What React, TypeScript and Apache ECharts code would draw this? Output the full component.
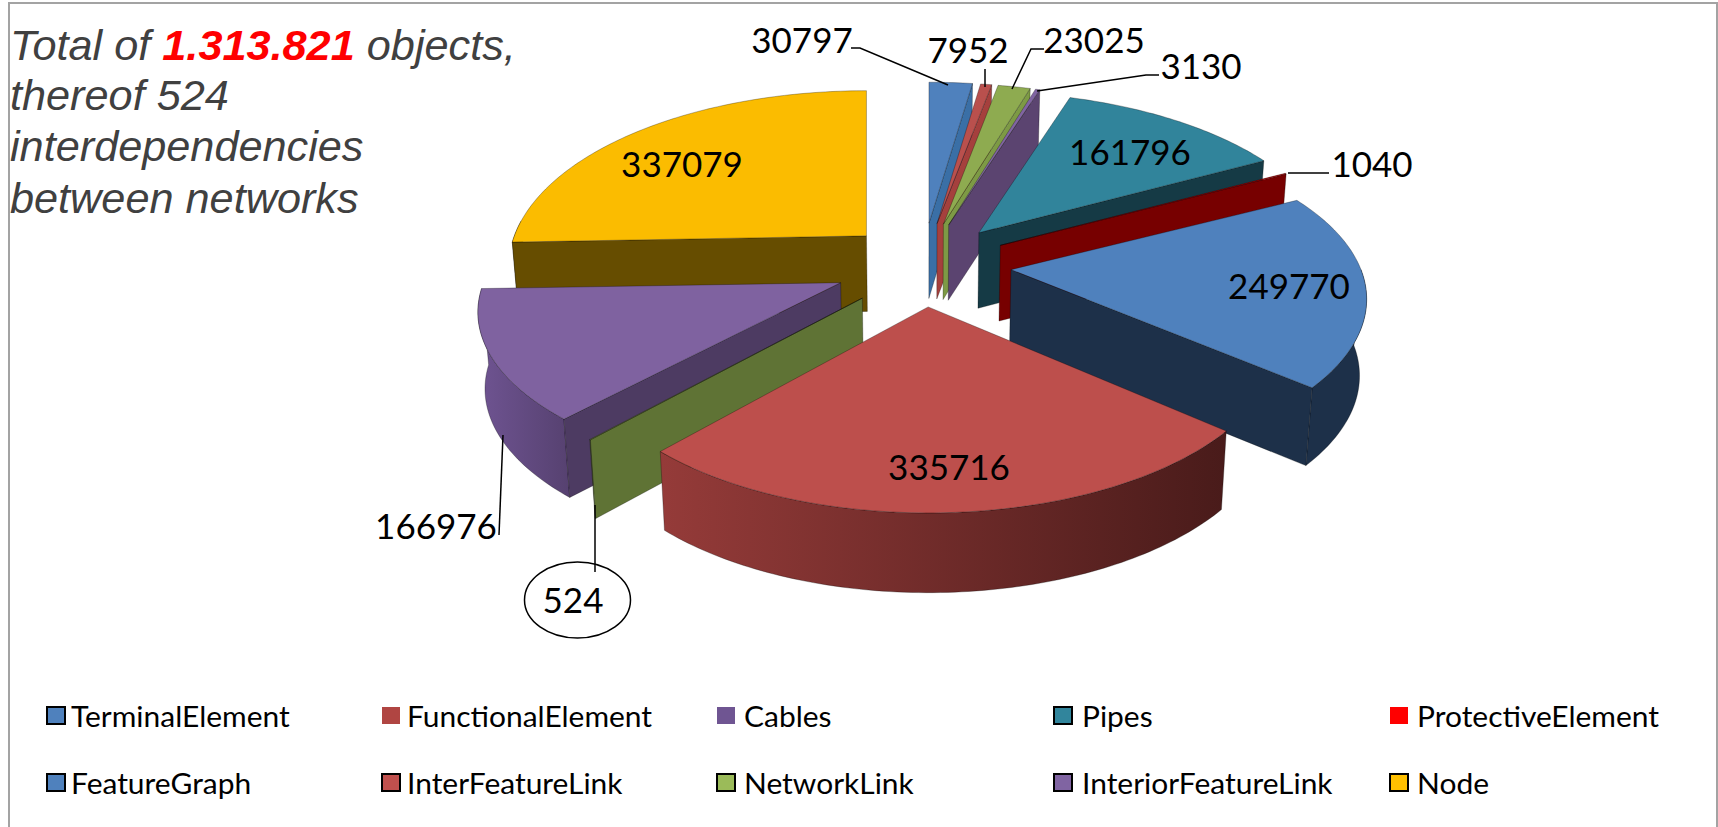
import React, { useEffect, useRef } from "react";
import * as echarts from "echarts";

// ---- data, clockwise from 12 o'clock ----
const categories = ["FeatureGraph", "InterFeatureLink", "NetworkLink", "InteriorFeatureLink", "Pipes", "ProtectiveElement", "TerminalElement", "FunctionalElement", "Interdependencies", "Cables", "Node"];
const values = [30797, 7952, 23025, 3130, 161796, 1040, 249770, 335716, 524, 166976, 337079];
const legendRowOne = ["TerminalElement", "FunctionalElement", "Cables", "Pipes", "ProtectiveElement"];
const legendRowTwo = ["FeatureGraph", "InterFeatureLink", "NetworkLink", "InteriorFeatureLink", "Node"];

// ---- styles ----
const topColors = ["#4f81bd", "#b9504d", "#8eab50", "#8064a2", "#31849b", "#c00000", "#4f81bd", "#bd4f4c", "#7c9642", "#7f62a0", "#fbbc00"];
const cutColors = ["#3a6fa6", "#a5403d", "#7d9a45", "#5b4470", "#153a45", "#770000", "#1d3049", "#4b1c1b", "#5f7335", "#4d3b62", "#664d00"];
const wallColors: [string, string][] = [
  ["#3a6fa6", "#3a6fa6"], ["#a5403d", "#a5403d"], ["#7d9a45", "#7d9a45"], ["#5b4470", "#5b4470"], ["#153a45", "#153a45"], ["#770000", "#770000"],
  ["#1d3049", "#1d3049"], ["#953b39", "#491b1a"], ["#5f7335", "#5f7335"], ["#6f5492", "#564170"], ["#664d00", "#664d00"],
];
const drawOrder = [0, 1, 2, 3, 4, 5, 6, 10, 9, 8, 7];
const legendColors: Record<string, string> = {
  TerminalElement: "#4f81bd", FunctionalElement: "#b04542", Cables: "#6f5592", Pipes: "#31859c", ProtectiveElement: "#ff0000",
  FeatureGraph: "#4f81bd", InterFeatureLink: "#c0504d", NetworkLink: "#9bbb59", InteriorFeatureLink: "#8064a2", Node: "#ffc000",
};
const legendUnframed = ["FunctionalElement", "Cables", "ProtectiveElement"];
const legendSwatchX = [47, 382, 717, 1054, 1390];
const legendTextX = [71, 407, 744, 1082, 1417];
const legendRowY = [716, 783];

// per-slice fine layout: [apex dx, apex dy, radius x scale, radius y scale]
const sliceTweak: [number, number, number, number][] = [
  [0, 0, 1, 1], [0, 0, 1, 1], [0, 0, 1, 1], [0, 0, 1, 1], [0, 0, 1, 1], [0, 0, 1, 1],
  [1, 0, 1, 0.97], [0, 0, 0.99, 1.02], [-1, 2, 1.005, 1], [-2, 0, 1.02, 0.965], [7.3, 0, 1.006, 1.03],
];

// label layout: centre of each value label and its leader line
const labelAt: [number, number][] = [[802, 39], [968, 49], [1094, 39], [1201, 65], [1130, 151], [1372, 163], [1289, 285], [949, 466], [573, 599], [436, 525], [682, 163]];
const leaders: ([number, number][] | null)[] = [
  [[851, 48], [860, 48], [948, 85]],
  [[985, 69], [985, 87]],
  [[1044, 49], [1031, 49], [1012, 89]],
  [[1159, 75], [1146, 75], [1037, 91]],
  null,
  [[1329, 173], [1288, 173]],
  null,
  null,
  [[595, 505], [595, 572]],
  [[503, 435], [499, 535]],
  null,
];

// ---- projection ----
const CX = 922.5, CY = 265, EX = 88, EY = 42, RX = 350, RY = 166, PERSP = 0.178, DEPTH = 76;
const total = values.reduce((a, b) => a + b, 0);
const rad = (d: number) => (d * Math.PI) / 180;
const startAngles: number[] = [];
{
  let c = 0;
  for (const v of values) {
    startAngles.push(c);
    c += (v / total) * 360;
  }
}
type P = [number, number];
const rimOffset = (t: number): P => {
  const x = Math.sin(rad(t)), y = -Math.cos(rad(t));
  const w = 1 / (1 - PERSP * y);
  return [RX * x * w, RY * y * w];
};
const drop = (p: P): P => [CX + (p[0] - CX) * 0.984, p[1] + DEPTH * (1 + 0.0002 * (p[1] - CY))];

function renderSlice(_: any, api: any) {
  const i = api.value(0) as number;
  const a = startAngles[i];
  const b = a + (api.value(1) / total) * 360;
  const m = (a + b) / 2;
  const [dx, dy, sx, sy] = sliceTweak[i];
  const apex: P = [CX + dx + EX * Math.sin(rad(m)), CY + dy - EY * Math.cos(rad(m))];
  const at = (t: number): P => {
    const o = rimOffset(t);
    return [apex[0] + o[0] * sx, apex[1] + o[1] * sy];
  };
  const arc = (from: number, to: number): P[] => {
    const n = Math.max(1, Math.ceil(to - from));
    const out: P[] = [];
    for (let k = 0; k <= n; k++) out.push(at(from + ((to - from) * k) / n));
    return out;
  };
  const edge = { stroke: "rgba(0,0,0,0.4)", lineWidth: 0.7 };
  const children: any[] = [];
  const cut = (t: number) => {
    const r = at(t);
    children.push({ type: "polygon", shape: { points: [apex, r, drop(r), drop(apex)] }, style: { fill: cutColors[i], ...edge } });
  };
  const w0 = Math.max(a, 90), w1 = Math.min(b, 275);
  if (w1 > w0) {
    const top = arc(w0, w1);
    children.push({
      type: "polygon",
      shape: { points: [...top, ...top.map(drop).reverse()] },
      style: {
        fill: new echarts.graphic.LinearGradient(0, 0, 1, 0, [
          { offset: 0, color: wallColors[i][0] },
          { offset: 1, color: wallColors[i][1] },
        ]),
        ...edge,
      },
    });
  }
  if (Math.sin(rad(a)) < 0) cut(a);
  if (Math.sin(rad(b)) > 0) cut(b);
  children.push({ type: "polygon", shape: { points: [apex, ...arc(a, b)] }, style: { fill: topColors[i], ...edge } });
  return { type: "group", children };
}

function renderLabel(_: any, api: any) {
  const i = api.value(0) as number;
  const [x, y] = labelAt[i];
  const children: any[] = [];
  const line = leaders[i];
  if (line) children.push({ type: "polyline", shape: { points: line }, style: { stroke: "#000", lineWidth: 1.5, fill: "none" } });
  if (categories[i] === "Interdependencies") {
    children.push({ type: "ellipse", shape: { cx: 577.5, cy: 600, rx: 53, ry: 38 }, style: { fill: "none", stroke: "#000", lineWidth: 1.5 } });
  }
  children.push({
    type: "text",
    x,
    y,
    style: { text: String(api.value(1)), fill: "#000", font: "35px Lato", align: "center", verticalAlign: "middle" },
  });
  return { type: "group", children };
}

const titleFont = "italic 42px 'Liberation Sans'";
const titleGrey = "#404040";

export default function App() {
  const ref = useRef<HTMLDivElement>(null);
  useEffect(() => {
    const chart = echarts.init(ref.current!, null, { renderer: "svg" });
    const graphics: any[] = [
      { type: "rect", shape: { x: 9, y: 3, width: 1708, height: 840 }, style: { fill: "none", stroke: "#a3a3a3", lineWidth: 2 }, z: 1 },
      {
        type: "text", x: 10, y: 66, scaleX: 1.03, z: 5,
        style: {
          text: "{a|Total of }{r|1.313.821}{a| objects,}",
          verticalAlign: "bottom",
          rich: {
            a: { font: titleFont, fill: titleGrey },
            r: { font: "italic bold 42px 'Liberation Sans'", fill: "#ff0000" },
          },
        },
      },
      ...["thereof 524", "interdependencies", "between networks"].map((t, k) => ({
        type: "text", x: 10, y: 116 + k * 51.5, scaleX: 1.03, z: 5,
        style: { text: t, font: titleFont, fill: titleGrey, verticalAlign: "bottom" },
      })),
    ];
    [legendRowOne, legendRowTwo].forEach((row, r) =>
      row.forEach((name, c) => {
        const framed = !legendUnframed.includes(name);
        graphics.push({
          type: "rect",
          shape: { x: legendSwatchX[c], y: legendRowY[r] - 9, width: 18, height: 17 },
          style: { fill: legendColors[name], stroke: framed ? "#000" : legendColors[name], lineWidth: framed ? 2 : 0 },
          z: 5,
        });
        graphics.push({
          type: "text",
          x: legendTextX[c],
          y: legendRowY[r],
          scaleX: 1.07,
          z: 5,
          style: { text: name, font: "28px Lato", fill: "#000", verticalAlign: "middle" },
        });
      })
    );
    chart.setOption({
      animation: false,
      backgroundColor: "#fff",
      graphic: graphics,
      series: [
        {
          type: "custom",
          coordinateSystem: "none",
          silent: true,
          z: 2,
          renderItem: renderSlice,
          data: drawOrder.map((i) => [i, values[i]]),
        },
        {
          type: "custom",
          coordinateSystem: "none",
          silent: true,
          z: 3,
          renderItem: renderLabel,
          data: values.map((v, i) => [i, v]),
        },
      ],
    });
    return () => chart.dispose();
  }, []);
  return <div ref={ref} style={{ position: "fixed", left: 0, top: 0, width: 1718, height: 827 }} />;
}
